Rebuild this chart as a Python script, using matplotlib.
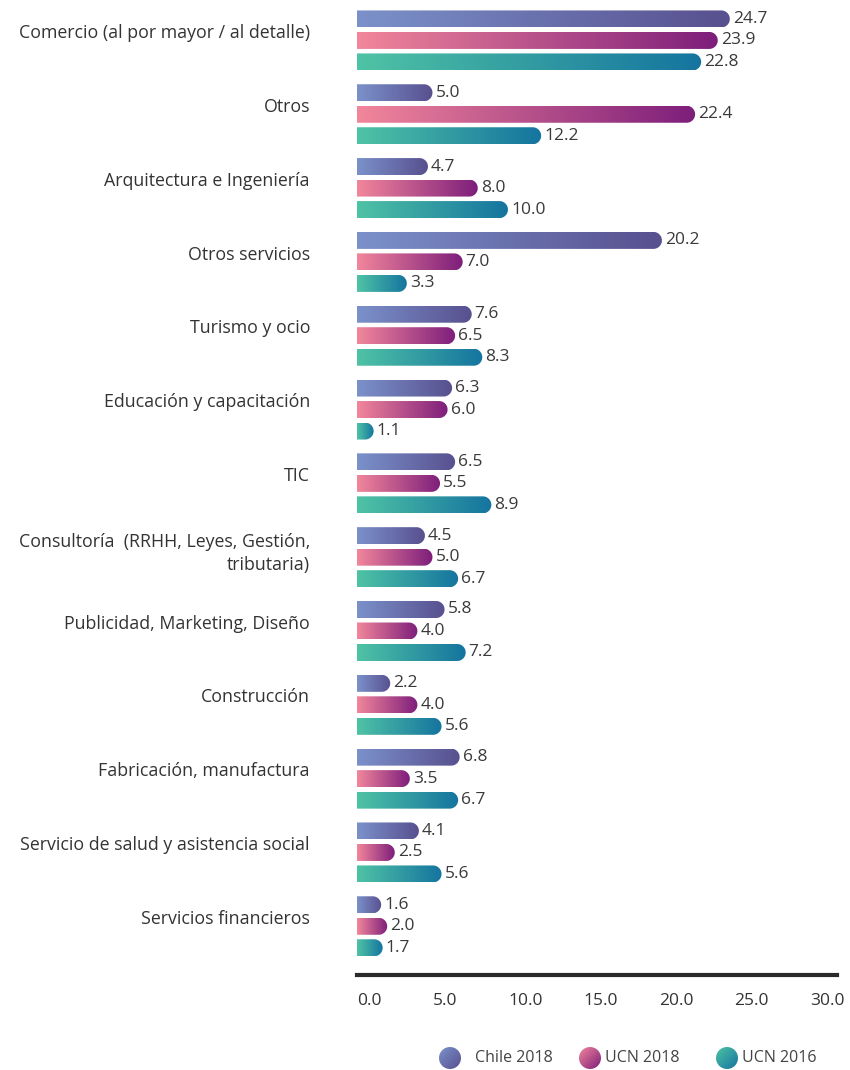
import numpy as np
import matplotlib
matplotlib.use('Agg')
import matplotlib.pyplot as plt
from matplotlib.colors import LinearSegmentedColormap
from matplotlib.path import Path
from matplotlib.patches import PathPatch, Circle

plt.rcParams['font.family'] = ['Open Sans', 'DejaVu Sans']

# datos por sector (%)
categorias = ['Comercio (al por mayor / al detalle)', 'Otros', 'Arquitectura e Ingeniería',
              'Otros servicios', 'Turismo y ocio', 'Educación y capacitación', 'TIC',
              'Consultoría  (RRHH, Leyes, Gestión,\ntributaria)', 'Publicidad, Marketing, Diseño',
              'Construcción', 'Fabricación, manufactura', 'Servicio de salud y asistencia social',
              'Servicios financieros']
chile_2018 = [24.7, 5.0, 4.7, 20.2, 7.6, 6.3, 6.5, 4.5, 5.8, 2.2, 6.8, 4.1, 1.6]
ucn_2018 = [23.9, 22.4, 8.0, 7.0, 6.5, 6.0, 5.5, 5.0, 4.0, 4.0, 3.5, 2.5, 2.0]
ucn_2016 = [22.8, 12.2, 10.0, 3.3, 8.3, 1.1, 8.9, 6.7, 7.2, 5.6, 6.7, 5.6, 1.7]
series = ['Chile 2018', 'UCN 2018', 'UCN 2016']
ticks = [0, 5, 10, 15, 20, 25, 30]

# degradados (claro -> oscuro)
cmaps = [LinearSegmentedColormap.from_list('c1', ['#7b91ca', '#58508f']),
         LinearSegmentedColormap.from_list('c2', ['#f2869b', '#7d1e7b']),
         LinearSegmentedColormap.from_list('c3', ['#4fc3a5', '#15749f'])]

W, H = 850, 1070
fig = plt.figure(figsize=(W / 100, H / 100), dpi=100)
ax_l, ax_b, ax_w, ax_h = 357 / W, 95 / H, 480 / W, 970 / H
ax = fig.add_axes([ax_l, ax_b, ax_w, ax_h])
xmax = 31.8
ylo, yhi = 12.66, -0.48
px_x = W * ax_w / xmax
px_y = H * ax_h / (ylo - yhi)

bar_h = 17 / px_y
offs = [-21.5 / px_y, 0, 21.5 / px_y]
rx = (bar_h / 2) * px_y / px_x
ry = bar_h / 2
grad = np.linspace(0, 1, 256).reshape(1, -1)


def barra(v, yc, cmap):
    # barra con extremo derecho redondeado y relleno en degradado
    xc = v - rx
    t = np.linspace(-np.pi / 2, np.pi / 2, 40)
    verts = [(0, yc - ry), (xc, yc - ry)]
    verts += [(xc + rx * np.cos(a), yc + ry * np.sin(a)) for a in t]
    verts += [(xc, yc + ry), (0, yc + ry), (0, yc - ry)]
    codes = [Path.MOVETO] + [Path.LINETO] * (len(verts) - 2) + [Path.CLOSEPOLY]
    patch = PathPatch(Path(verts, codes), fc='none', ec='none')
    ax.add_patch(patch)
    im = ax.imshow(grad, extent=[0, v, yc + ry, yc - ry], aspect='auto', cmap=cmap,
                   interpolation='bicubic')
    im.set_clip_path(patch)
    ax.text(v + 3 / px_x, yc, f'{v:.1f}', ha='left', va='center', fontsize=12.5,
            color='#3a3a3a')


for i in range(len(categorias)):
    for j, vals in enumerate([chile_2018, ucn_2018, ucn_2016]):
        barra(vals[i], i + offs[j], cmaps[j])
    ax.text(-47 / px_x, i - 0.1 if '\n' not in categorias[i] else i - 0.05,
            categorias[i], ha='right', va='center', multialignment='right',
            fontsize=12.8, color='#333333', linespacing=1.3)

ax.set_xlim(0, xmax)
ax.set_ylim(ylo, yhi)
ax.set_yticks([])
ax.set_xticks(ticks)
ax.set_xticklabels([f'{t:.1f}' for t in ticks], fontsize=12.5, color='#333333')
for lab in ax.get_xticklabels():
    lab.set_ha('left')
ax.tick_params(axis='x', length=0, pad=13)
for s in ['top', 'right', 'left']:
    ax.spines[s].set_visible(False)
ax.spines['bottom'].set_linewidth(3)
ax.spines['bottom'].set_color('#2a2a2a')
ax.patch.set_alpha(0)

# leyenda con círculos en degradado
lg = fig.add_axes([0, 0, 1, 1])
lg.set_xlim(0, W)
lg.set_ylim(H, 0)
lg.set_axis_off()
gx, gy = np.meshgrid(np.linspace(0, 1, 64), np.linspace(0, 1, 64))
diag = (gx + gy) / 2
cx_list = [450, 590, 727]
for cx, nombre, cmap in zip(cx_list, series, cmaps):
    cy, r = 1058, 11
    c = Circle((cx, cy), r, fc='none', ec='none')
    lg.add_patch(c)
    im = lg.imshow(diag, extent=[cx - r, cx + r, cy + r, cy - r], cmap=cmap, aspect='auto')
    im.set_clip_path(c)
    lg.text(cx + 15 if cx != 450 else cx + 25, cy, nombre, ha='left', va='center',
            fontsize=11.5, color='#444444')
lg.set_xlim(0, W)
lg.set_ylim(H, 0)

fig.savefig('out.png', dpi=100)
